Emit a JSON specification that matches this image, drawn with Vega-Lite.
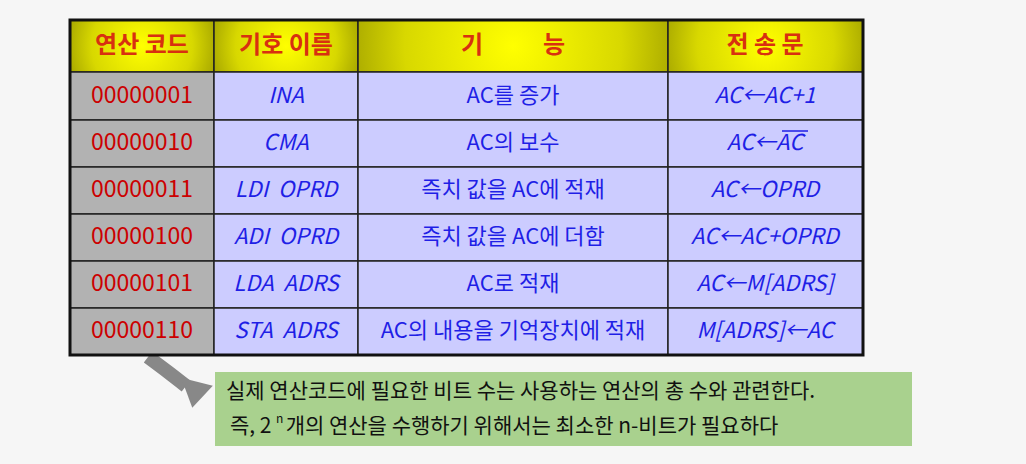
{
"$schema":"https://vega.github.io/schema/vega-lite/v6.json",
"autosize":{"type":"fit","contains":"padding"},
"width":1026,"height":464,"padding":0,
"background":"#f6f6f6",
"config":{"view":{"stroke":null},"font":"Noto Sans CJK KR"},
"datasets":{
"header":[
{"x1":70,"x2":214,"y1":20,"y2":72,"xc":142,"label":"연산 코드"},
{"x1":214,"x2":358,"y1":20,"y2":72,"xc":286,"label":"기호 이름"},
{"x1":358,"x2":668,"y1":20,"y2":72,"xc":513,"label":"기\u00a0\u00a0\u00a0\u00a0\u00a0\u00a0\u00a0\u00a0\u00a0\u00a0\u00a0능"},
{"x1":668,"x2":863,"y1":20,"y2":72,"xc":765,"label":"전 송 문"}],
"cells":[
{"x1":70,"x2":214,"y1":72,"y2":120,"xc":142,"yc":96,"kind":"code","label":"00000001"},
{"x1":214,"x2":358,"y1":72,"y2":120,"xc":286,"yc":96,"kind":"sym","label":"INA"},
{"x1":358,"x2":668,"y1":72,"y2":120,"xc":513,"yc":96,"kind":"fn","label":"AC를 증가"},
{"x1":668,"x2":863,"y1":72,"y2":120,"xc":765,"yc":96,"kind":"sym","label":"AC←AC+1"},
{"x1":70,"x2":214,"y1":120,"y2":167,"xc":142,"yc":143,"kind":"code","label":"00000010"},
{"x1":214,"x2":358,"y1":120,"y2":167,"xc":286,"yc":143,"kind":"sym","label":"CMA"},
{"x1":358,"x2":668,"y1":120,"y2":167,"xc":513,"yc":143,"kind":"fn","label":"AC의 보수"},
{"x1":668,"x2":863,"y1":120,"y2":167,"xc":765,"yc":143,"kind":"sym","label":"AC←AC"},
{"x1":70,"x2":214,"y1":167,"y2":214,"xc":142,"yc":190,"kind":"code","label":"00000011"},
{"x1":214,"x2":358,"y1":167,"y2":214,"xc":286,"yc":190,"kind":"sym","label":"LDI\u00a0\u00a0OPRD"},
{"x1":358,"x2":668,"y1":167,"y2":214,"xc":513,"yc":190,"kind":"fn","label":"즉치 값을 AC에 적재"},
{"x1":668,"x2":863,"y1":167,"y2":214,"xc":765,"yc":190,"kind":"sym","label":"AC←OPRD"},
{"x1":70,"x2":214,"y1":214,"y2":261,"xc":142,"yc":237,"kind":"code","label":"00000100"},
{"x1":214,"x2":358,"y1":214,"y2":261,"xc":286,"yc":237,"kind":"sym","label":"ADI\u00a0\u00a0OPRD"},
{"x1":358,"x2":668,"y1":214,"y2":261,"xc":513,"yc":237,"kind":"fn","label":"즉치 값을 AC에 더함"},
{"x1":668,"x2":863,"y1":214,"y2":261,"xc":765,"yc":237,"kind":"sym","label":"AC←AC+OPRD"},
{"x1":70,"x2":214,"y1":261,"y2":308,"xc":142,"yc":284,"kind":"code","label":"00000101"},
{"x1":214,"x2":358,"y1":261,"y2":308,"xc":286,"yc":284,"kind":"sym","label":"LDA\u00a0\u00a0ADRS"},
{"x1":358,"x2":668,"y1":261,"y2":308,"xc":513,"yc":284,"kind":"fn","label":"AC로 적재"},
{"x1":668,"x2":863,"y1":261,"y2":308,"xc":765,"yc":284,"kind":"sym","label":"AC←M[ADRS]"},
{"x1":70,"x2":214,"y1":308,"y2":355,"xc":142,"yc":331,"kind":"code","label":"00000110"},
{"x1":214,"x2":358,"y1":308,"y2":355,"xc":286,"yc":331,"kind":"sym","label":"STA\u00a0\u00a0ADRS"},
{"x1":358,"x2":668,"y1":308,"y2":355,"xc":513,"yc":331,"kind":"fn","label":"AC의 내용을 기억장치에 적재"},
{"x1":668,"x2":863,"y1":308,"y2":355,"xc":765,"yc":331,"kind":"sym","label":"M[ADRS]←AC"}],
"note":[{"x":226,"y":392,"label":"실제 연산코드에 필요한 비트 수는 사용하는 연산의 총 수와 관련한다."},
{"x":230,"y":427,"label":"즉, 2\u00a0\u00a0\u00a0개의 연산을 수행하기 위해서는 최소한 n-비트가 필요하다"}]
},
"encoding":{
"x":{"type":"quantitative","scale":{"domain":[0,1026],"nice":false,"zero":false},"axis":null},
"y":{"type":"quantitative","scale":{"domain":[0,464],"reverse":true,"nice":false,"zero":false},"axis":null}
},
"layer":[
{"data":{"values":[{"x":148,"y":357},{"x":168,"y":372},{"x":186,"y":386}]},
 "mark":{"type":"line","color":"#888888","strokeWidth":14,"interpolate":"monotone"},
 "encoding":{"x":{"field":"x","type":"quantitative"},"y":{"field":"y","type":"quantitative"},"order":{"field":"x"}}},
{"data":{"values":[{"x":197,"y":392}]},
 "mark":{"type":"point","filled":true,"color":"#888888","opacity":1,"size":1000,"shape":"M-1,-0.9L1,-0.4L-0.3,1Z"},
 "encoding":{"x":{"field":"x","type":"quantitative"},"y":{"field":"y","type":"quantitative"}}},
{"data":{"values":[{"x1":215,"x2":912,"y1":372,"y2":446}]},
 "mark":{"type":"rect","fill":"#a9d18e"},
 "encoding":{"x":{"field":"x1","type":"quantitative"},"x2":{"field":"x2"},"y":{"field":"y1","type":"quantitative"},"y2":{"field":"y2"}}},
{"data":{"name":"note"},
 "mark":{"type":"text","align":"left","baseline":"middle","fontSize":21,"color":"#111111"},
 "encoding":{"x":{"field":"x","type":"quantitative"},"y":{"field":"y","type":"quantitative"},"text":{"field":"label"}}},
{"data":{"values":[{"x":276,"y":419,"label":"n"}]},
 "mark":{"type":"text","align":"left","baseline":"middle","fontSize":12,"color":"#111111"},
 "encoding":{"x":{"field":"x","type":"quantitative"},"y":{"field":"y","type":"quantitative"},"text":{"field":"label"}}},
{"data":{"name":"header"},
 "mark":{"type":"rect","stroke":"#222222","strokeWidth":1.5,
  "fill":{"gradient":"radial","x1":0.5,"y1":0.5,"r1":0,"x2":0.5,"y2":0.5,"r2":0.7,"stops":[{"offset":0,"color":"#ffff00"},{"offset":0.5,"color":"#d8d800"},{"offset":1,"color":"#7a7a00"}]}},
 "encoding":{"x":{"field":"x1","type":"quantitative"},"x2":{"field":"x2"},"y":{"field":"y1","type":"quantitative"},"y2":{"field":"y2"}}},
{"data":{"name":"header"},
 "mark":{"type":"text","baseline":"middle","fontSize":24,"fontWeight":"bold","color":"#d83010"},
 "encoding":{"x":{"field":"xc","type":"quantitative"},"y":{"datum":46,"type":"quantitative"},"text":{"field":"label"}}},
{"data":{"name":"cells"},
 "mark":{"type":"rect","stroke":"#222222","strokeWidth":1.5},
 "encoding":{"x":{"field":"x1","type":"quantitative"},"x2":{"field":"x2"},"y":{"field":"y1","type":"quantitative"},"y2":{"field":"y2"},
  "fill":{"field":"kind","type":"nominal","scale":{"domain":["code","sym","fn"],"range":["#b2b2b2","#ccccff","#ccccff"]},"legend":null}}},
{"data":{"name":"cells"},
 "transform":[{"filter":"datum.kind==='code'"}],
 "mark":{"type":"text","baseline":"middle","fontSize":23,"color":"#cc0000"},
 "encoding":{"x":{"field":"xc","type":"quantitative"},"y":{"field":"yc","type":"quantitative"},"text":{"field":"label"}}},
{"data":{"name":"cells"},
 "transform":[{"filter":"datum.kind==='sym'"}],
 "mark":{"type":"text","baseline":"middle","fontSize":22,"fontStyle":"italic","color":"#1f1fe6"},
 "encoding":{"x":{"field":"xc","type":"quantitative"},"y":{"field":"yc","type":"quantitative"},"text":{"field":"label"}}},
{"data":{"name":"cells"},
 "transform":[{"filter":"datum.kind==='fn'"}],
 "mark":{"type":"text","baseline":"middle","fontSize":22,"color":"#1f1fe6"},
 "encoding":{"x":{"field":"xc","type":"quantitative"},"y":{"field":"yc","type":"quantitative"},"text":{"field":"label"}}},
{"data":{"values":[{"x1":782,"x2":808,"y":131}]},
 "mark":{"type":"rule","color":"#1f1fe6","strokeWidth":1.5},
 "encoding":{"x":{"field":"x1","type":"quantitative"},"x2":{"field":"x2"},"y":{"field":"y","type":"quantitative"}}},
{"data":{"values":[{"x1":70,"x2":863,"y1":20,"y2":355}]},
 "mark":{"type":"rect","fill":null,"stroke":"#111111","strokeWidth":3},
 "encoding":{"x":{"field":"x1","type":"quantitative"},"x2":{"field":"x2"},"y":{"field":"y1","type":"quantitative"},"y2":{"field":"y2"}}}
]
}
